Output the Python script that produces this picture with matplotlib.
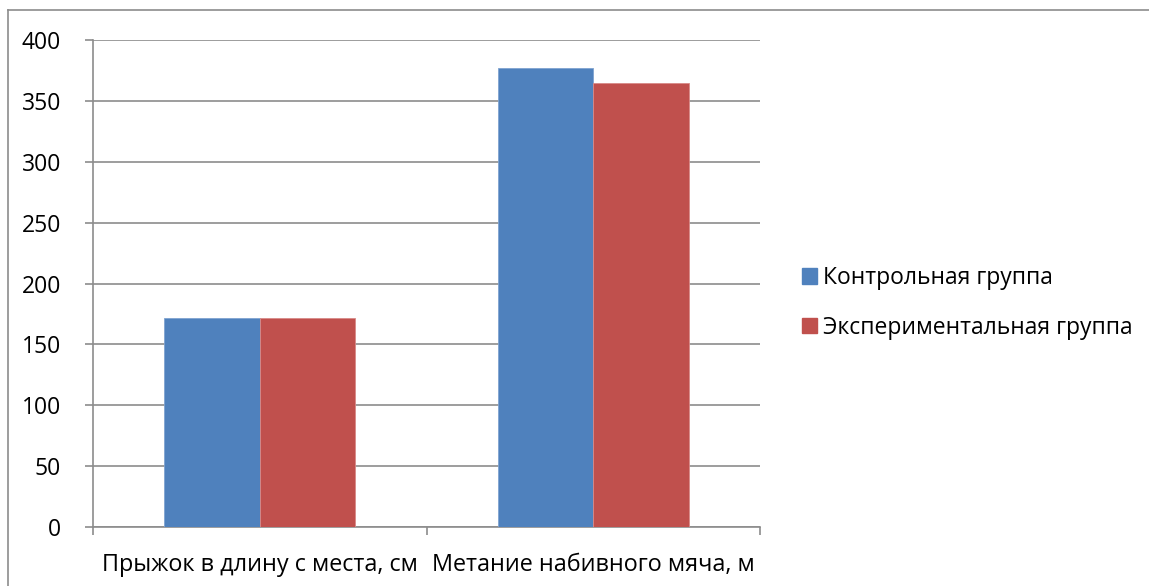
import numpy as np
import matplotlib.pyplot as plt
from matplotlib.patches import Rectangle
from matplotlib.lines import Line2D

categories = ['Прыжок в длину с места, см', 'Метание набивного мяча, м']
series_names = ['Контрольная группа', 'Экспериментальная группа']
control = [172, 377]
experimental = [172, 365]
colors = ['#4f81bd', '#c0504d']

plt.rcParams['font.family'] = ['Open Sans', 'DejaVu Sans']
fs = 16.5

fig = plt.figure(figsize=(11.49, 5.86), dpi=100)
ax = fig.add_axes([0.081, 0.1007, 0.5805, 0.831])

x = np.arange(len(categories))
w = 0.286
ax.bar(x - w / 2, control, w, color=colors[0], edgecolor='#7fa3d0', linewidth=0.6, zorder=3)
ax.bar(x + w / 2, experimental, w, color=colors[1], edgecolor='#d88a88', linewidth=0.6, zorder=3)

ax.set_xlim(-0.5, 1.5)
ax.set_ylim(0, 400)
ax.set_yticks(range(0, 401, 50))
ax.yaxis.grid(True, color='#8c8c8c', linewidth=1.2, zorder=0)
ax.set_axisbelow(True)

ax.set_xticks([-0.5, 0.5, 1.5])
ax.set_xticklabels([])
ax.set_xticks(x, minor=True)
ax.set_xticklabels(categories, minor=True)
ax.tick_params(axis='x', which='minor', length=0, pad=19, labelsize=16.8)
ax.tick_params(axis='x', which='major', length=6, color='#8c8c8c', width=1.2)
ax.tick_params(axis='y', length=6, color='#8c8c8c', width=1.2, labelsize=fs, pad=17)

for s in ['top', 'right']:
    ax.spines[s].set_visible(False)
for s in ['left', 'bottom']:
    ax.spines[s].set_color('#8c8c8c')
    ax.spines[s].set_linewidth(1.2)

# chart area border (left and top visible)
fig.add_artist(Line2D([8 / 1149, 8 / 1149], [0, 1 - 10 / 586], color='#8c8c8c', lw=1.2))
fig.add_artist(Line2D([8 / 1149, 1], [1 - 10 / 586, 1 - 10 / 586], color='#8c8c8c', lw=1.2))

handles = [Rectangle((0, 0), 1, 1, color=c) for c in colors]
fig.legend(handles, series_names, loc='center left', bbox_to_anchor=(0.688, 0.483),
           frameon=False, fontsize=fs, handlelength=0.65, handleheight=0.65,
           handletextpad=0.25, labelspacing=1.12, borderpad=0)

fig.savefig('out.png', dpi=100)
